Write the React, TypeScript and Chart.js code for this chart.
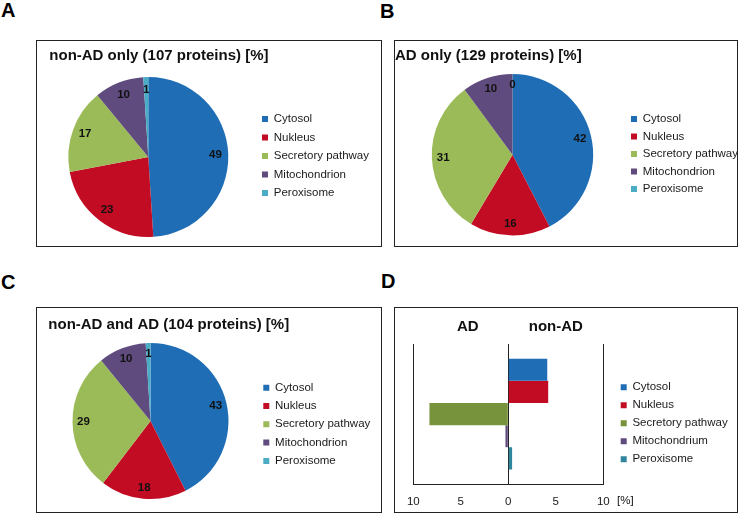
import React, { useEffect, useRef } from 'react';
import { Chart, registerables } from 'chart.js';

Chart.register(...registerables);

const FONT = '"Liberation Sans", Arial, Helvetica, sans-serif';
Chart.defaults.font.family = FONT;

// ---------- data ----------
const pieCategories = ['Cytosol', 'Nukleus', 'Secretory pathway', 'Mitochondrion', 'Peroxisome'];
const barCategories = ['Cytosol', 'Nukleus', 'Secretory pathway', 'Mitochondrium', 'Peroxisome'];

const nonAdOnly = [49, 23, 17, 10, 1];
const adOnly = [42, 16, 31, 10, 0];
const nonAdAndAd = [43, 18, 29, 10, 1];

// D: difference in % (negative = AD side, positive = non-AD side)
const difference = [4.1, 4.2, -8.3, -0.3, 0.4];
const xTickValues = [-10, -5, 0, 5, 10];

const pieColors = ['#1F6DB4', '#C20C24', '#9BBB59', '#5F4B7D', '#4BACC6'];
const barColors = ['#1F6DB4', '#C20C24', '#77933C', '#5F4B7D', '#31859C'];

const titleA = 'non-AD only (107 proteins) [%]';
const titleB = 'AD only (129 proteins) [%]';
const titleC = 'non-AD and AD (104 proteins) [%]';
const headerAD = 'AD';
const headerNonAD = 'non-AD';
const unitLabel = '[%]';

// ---------- plugins ----------
type TextItem = {
  text: string;
  x: number;
  y: number;
  font: string;
  align?: CanvasTextAlign;
  baseline?: CanvasTextBaseline;
};

const textPlugin = (items: TextItem[]) => ({
  id: 'panelTexts',
  afterDraw(chart: any) {
    const ctx = chart.ctx;
    ctx.save();
    items.forEach((t) => {
      ctx.font = t.font;
      ctx.fillStyle = '#111';
      ctx.textAlign = t.align || 'left';
      ctx.textBaseline = t.baseline || 'alphabetic';
      ctx.fillText(t.text, t.x, t.y);
    });
    ctx.restore();
  },
});

const LEGEND_FONT = 11.5;

const legendPlacePlugin = (x: number, firstCenter: number, pad: number) => ({
  id: 'legendPlace',
  afterLayout(chart: any) {
    const lg = chart.legend;
    if (!lg) return;
    const w = lg.width;
    lg.left = x - pad;
    lg.right = lg.left + w;
    lg.top = firstCenter - LEGEND_FONT / 2 - pad;
    lg.bottom = lg.top + 400;
  },
});

const pieLabelPlugin = (values: number[], factor: number) => ({
  id: 'pieLabels',
  afterDatasetsDraw(chart: any) {
    const meta = chart.getDatasetMeta(0);
    const ctx = chart.ctx;
    ctx.save();
    ctx.font = `bold 11.5px ${FONT}`;
    ctx.fillStyle = '#111';
    ctx.textAlign = 'center';
    ctx.textBaseline = 'middle';
    meta.data.forEach((arc: any, i: number) => {
      const p = arc.getProps(['x', 'y', 'startAngle', 'endAngle', 'outerRadius'], true);
      const a = (p.startAngle + p.endAngle) / 2;
      const r = p.outerRadius * factor;
      ctx.fillText(String(values[i]), p.x + Math.cos(a) * r, p.y + Math.sin(a) * r);
    });
    ctx.restore();
  },
});

const legendLabels = (pad: number) => ({
  boxWidth: 6,
  boxHeight: 6,
  padding: pad,
  color: '#1a1a1a',
  font: { size: LEGEND_FONT, family: FONT },
});

// ---------- generic canvas ----------
type PanelProps = {
  left: number;
  top: number;
  width: number;
  height: number;
  makeConfig: () => any;
};

function ChartPanel({ left, top, width, height, makeConfig }: PanelProps) {
  const ref = useRef<HTMLCanvasElement | null>(null);
  useEffect(() => {
    if (!ref.current) return;
    const chart = new Chart(ref.current, makeConfig());
    return () => chart.destroy();
  }, []);
  return (
    <>
      <canvas
        ref={ref}
        width={width}
        height={height}
        style={{ position: 'absolute', left, top, width, height, display: 'block' }}
      />
      <div
        style={{
          position: 'absolute',
          left,
          top,
          width,
          height,
          boxSizing: 'border-box',
          border: '1px solid #222',
          pointerEvents: 'none',
        }}
      />
    </>
  );
}

type PieSpec = {
  values: number[];
  title: string;
  titleX: number;
  titleY: number;
  w: number;
  h: number;
  cx: number;
  cy: number;
  r: number;
  legendX: number;
  legendY: number;
  legendPad: number;
  labelFactor: number;
};

function pieConfig(s: PieSpec) {
  return {
    type: 'pie',
    data: {
      labels: pieCategories,
      datasets: [
        {
          data: s.values,
          backgroundColor: pieColors,
          borderWidth: 0,
          hoverOffset: 0,
        },
      ],
    },
    options: {
      responsive: false,
      animation: false,
      events: [],
      layout: {
        padding: {
          left: s.cx - s.r,
          top: s.cy - s.r,
          right: s.w - s.cx - s.r,
          bottom: s.h - s.cy - s.r,
        },
      },
      plugins: {
        legend: {
          position: 'chartArea',
          align: 'start',
          labels: legendLabels(s.legendPad),
        },
        tooltip: { enabled: false },
        title: { display: false },
      },
    },
    plugins: [
      legendPlacePlugin(s.legendX, s.legendY, s.legendPad),
      pieLabelPlugin(s.values, s.labelFactor),
      textPlugin([{ text: s.title, x: s.titleX, y: s.titleY, font: `bold 15px ${FONT}` }]),
    ],
  };
}

function barConfig() {
  const pad = 6.5;
  return {
    type: 'bar',
    data: {
      labels: [''],
      datasets: barCategories.map((name, i) => ({
        label: name,
        data: [difference[i]],
        backgroundColor: barColors[i],
        borderWidth: 0,
        barPercentage: 1,
        categoryPercentage: 0.79,
      })),
    },
    options: {
      indexAxis: 'y',
      responsive: false,
      animation: false,
      events: [],
      layout: { padding: { left: 19.3, top: 37, right: 134.7, bottom: -7 } },
      scales: {
        x: {
          type: 'linear',
          min: -10,
          max: 10,
          afterBuildTicks: (scale: any) => {
            scale.ticks = xTickValues.map((v) => ({ value: v }));
          },
          ticks: {
            padding: 11,
            color: '#1a1a1a',
            font: { size: 11.5, family: FONT },
            callback: (v: any) => String(Math.abs(Number(v))),
          },
          grid: {
            drawTicks: false,
            lineWidth: 1,
            color: (ctx: any) =>
              ctx.tick && [-10, 0, 10].includes(ctx.tick.value) ? '#222' : 'rgba(0,0,0,0)',
          },
          border: { display: true, color: '#222', width: 1 },
        },
        y: {
          display: false,
        },
      },
      plugins: {
        legend: {
          position: 'chartArea',
          align: 'start',
          labels: legendLabels(pad),
        },
        tooltip: { enabled: false },
      },
    },
    plugins: [
      legendPlacePlugin(226.7, 80.3, pad),
      textPlugin([
        { text: headerAD, x: 73.8, y: 24, font: `bold 15px ${FONT}`, align: 'center' },
        { text: headerNonAD, x: 161.8, y: 24, font: `bold 15px ${FONT}`, align: 'center' },
        { text: unitLabel, x: 223, y: 194, font: `11.5px ${FONT}`, baseline: 'middle' },
      ]),
    ],
  };
}

const letterStyle = (left: number, top: number): React.CSSProperties => ({
  position: 'absolute',
  left,
  top,
  font: `bold 20px ${FONT}`,
  lineHeight: 'normal',
  color: '#000',
  margin: 0,
});

export default function App() {
  return (
    <div
      style={{
        position: 'fixed',
        left: 0,
        top: 0,
        width: 740,
        height: 515,
        background: '#fff',
        overflow: 'hidden',
        fontFamily: FONT,
      }}
    >
      <div style={letterStyle(1, -0.8)}>A</div>
      <div style={letterStyle(380, 0)}>B</div>
      <div style={letterStyle(1, 271)}>C</div>
      <div style={letterStyle(381, 270.4)}>D</div>

      <ChartPanel
        left={36}
        top={40}
        width={346}
        height={207}
        makeConfig={() =>
          pieConfig({
            values: nonAdOnly,
            title: titleA,
            titleX: 13.3,
            titleY: 20,
            w: 346,
            h: 207,
            cx: 112.3,
            cy: 117,
            r: 80,
            legendX: 226,
            legendY: 79,
            legendPad: 7,
            labelFactor: 0.84,
          })
        }
      />
      <ChartPanel
        left={394}
        top={40}
        width={344}
        height={207}
        makeConfig={() =>
          pieConfig({
            values: adOnly,
            title: titleB,
            titleX: 1,
            titleY: 19.5,
            w: 344,
            h: 207,
            cx: 118.5,
            cy: 114.7,
            r: 80.7,
            legendX: 237,
            legendY: 79,
            legendPad: 6,
            labelFactor: 0.86,
          })
        }
      />
      <ChartPanel
        left={36}
        top={307}
        width={346}
        height={206}
        makeConfig={() =>
          pieConfig({
            values: nonAdAndAd,
            title: titleC,
            titleX: 12.3,
            titleY: 21.5,
            w: 346,
            h: 206,
            cx: 114.5,
            cy: 114,
            r: 78,
            legendX: 227.3,
            legendY: 80.7,
            legendPad: 6.8,
            labelFactor: 0.86,
          })
        }
      />
      <ChartPanel left={394} top={307} width={344} height={206} makeConfig={barConfig} />
    </div>
  );
}
